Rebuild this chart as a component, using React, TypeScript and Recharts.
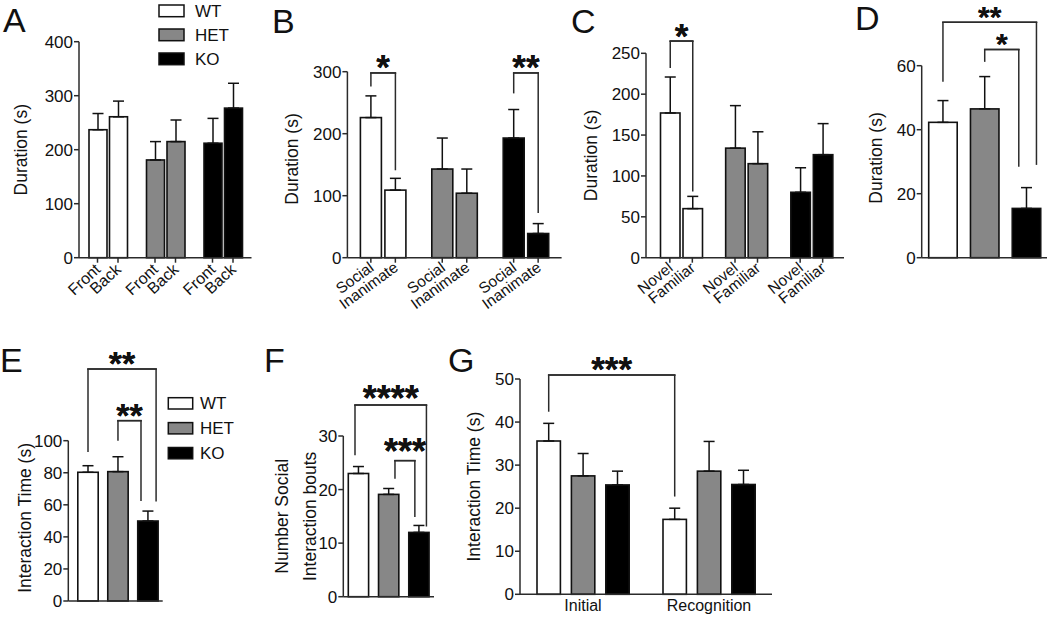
import React from 'react';
import { BarChart, Bar, XAxis, YAxis, ErrorBar } from 'recharts';

const FONT = '"Liberation Sans", Arial, Helvetica, sans-serif';
const INK = '#111111';
const AXIS = '#2b2b2b';

// ---------- shared ----------
const genotypes = ['WT', 'HET', 'KO'];
const genotypeColors = ['#ffffff', '#878787', '#000000'];

// ---------- Panel A ----------
const aSides = ['Front', 'Back'];
const aFront = [237, 181, 212];
const aFrontErr = [30, 34, 46];
const aBack = [261, 215, 277];
const aBackErr = [29, 40, 46];
const aTicks = [0, 100, 200, 300, 400];

// ---------- Panel B ----------
const bStimuli = ['Social', 'Inanimate'];
const bSocial = [226, 143, 193];
const bSocialErr = [35, 50, 46];
const bInanimate = [109, 104, 39];
const bInanimateErr = [19, 39, 16];
const bTicks = [0, 100, 200, 300];

// ---------- Panel C ----------
const cStimuli = ['Novel', 'Familiar'];
const cNovel = [177, 134, 80];
const cNovelErr = [44, 52, 30];
const cFamiliar = [60, 115, 126];
const cFamiliarErr = [15, 39, 38];
const cTicks = [0, 50, 100, 150, 200, 250];

// ---------- Panel D ----------
const dDuration = [42.3, 46.5, 15.4];
const dErr = [6.8, 10.1, 6.5];
const dTicks = [0, 20, 40, 60];

// ---------- Panel E ----------
const eTime = [80.3, 80.7, 49.9];
const eErr = [4.1, 9.3, 6.2];
const eTicks = [0, 20, 40, 60, 80, 100];

// ---------- Panel F ----------
const fBouts = [23.0, 19.1, 12.0];
const fErr = [1.3, 1.1, 1.3];
const fTicks = [0, 10, 20, 30];

// ---------- Panel G ----------
const gPhases = ['Initial', 'Recognition'];
const gWT = [35.6, 17.4];
const gWTErr = [4.1, 2.6];
const gHET = [27.5, 28.6];
const gHETErr = [5.2, 6.9];
const gKO = [25.4, 25.5];
const gKOErr = [3.2, 3.3];
const gTicks = [0, 10, 20, 30, 40, 50];

// ---------- significance brackets (values in data units) ----------
type Bracket = {
  stars: string;
  from: [string, number];
  to: [string, number];
  level: number;
  fromEnd: number;
  toEnd: number;
  fromShift?: number;
  toShift?: number;
  gap?: number;
};

const bBrackets: Bracket[] = [
  { stars: '*', from: ['social', 0], to: ['inanimate', 0], level: 298, fromEnd: 276, toEnd: 141 },
  { stars: '**', from: ['social', 2], to: ['inanimate', 2], level: 298, fromEnd: 265, toEnd: 72 },
];
const cBrackets: Bracket[] = [
  { stars: '*', from: ['novel', 0], to: ['familiar', 0], level: 265, fromEnd: 232, toEnd: 81 },
];
const dBrackets: Bracket[] = [
  { stars: '**', from: ['value', 0], to: ['value', 2], level: 73.6, fromEnd: 55, toEnd: 29, toShift: 0.35, gap: 12.5 },
  { stars: '*', from: ['value', 1], to: ['value', 2], level: 65.1, fromEnd: 61.2, toEnd: 28.4, toShift: -0.27, gap: 12.5 },
];
const eBrackets: Bracket[] = [
  { stars: '**', from: ['value', 0], to: ['value', 2], level: 144.7, fromEnd: 93, toEnd: 62, toShift: 0.4 },
  { stars: '**', from: ['value', 1], to: ['value', 2], level: 112.5, fromEnd: 100, toEnd: 62.4, toShift: -0.34 },
];
const fBrackets: Bracket[] = [
  { stars: '****', from: ['value', 0], to: ['value', 2], level: 35.8, fromEnd: 26.4, toEnd: 13.1, fromShift: -0.17, toShift: 0.37, gap: 15 },
  { stars: '***', from: ['value', 1], to: ['value', 2], level: 25.4, fromEnd: 22, toEnd: 14.9, fromShift: 0.31, toShift: -0.2, gap: 17.5 },
];
const gBrackets: Bracket[] = [
  { stars: '***', from: ['wt', 0], to: ['wt', 1], level: 50.9, fromEnd: 42.4, toEnd: 22.7, gap: 15 },
];

// ---------- tables built from arrays ----------
const aRows = genotypes.map((g, i) => ({ genotype: g, front: aFront[i], frontErr: aFrontErr[i], back: aBack[i], backErr: aBackErr[i] }));
const bRows = genotypes.map((g, i) => ({ genotype: g, social: bSocial[i], socialErr: bSocialErr[i], inanimate: bInanimate[i], inanimateErr: bInanimateErr[i] }));
const cRows = genotypes.map((g, i) => ({ genotype: g, novel: cNovel[i], novelErr: cNovelErr[i], familiar: cFamiliar[i], familiarErr: cFamiliarErr[i] }));
const dRows = genotypes.map((g, i) => ({ genotype: g, value: dDuration[i], err: dErr[i] }));
const eRows = genotypes.map((g, i) => ({ genotype: g, value: eTime[i], err: eErr[i] }));
const fRows = genotypes.map((g, i) => ({ genotype: g, value: fBouts[i], err: fErr[i] }));
const gRows = gPhases.map((p, i) => ({ phase: p, wt: gWT[i], wtErr: gWTErr[i], het: gHET[i], hetErr: gHETErr[i], ko: gKO[i], koErr: gKOErr[i] }));

// ---------- bar shape with bracket drawing ----------
type Geo = { cx: number; w: number; base: number; ppu: number };
const registry: Record<string, Record<string, Geo>> = {};

function makeShape(panel: string, seriesKey: string, fillFor: (i: number) => string, brackets: Bracket[], starSize: number) {
  const reg = (registry[panel] = registry[panel] || {});
  return (props: any) => {
    const { x, y, width, height, index, payload } = props;
    const v = Number(payload ? payload[seriesKey] : props.value);
    const key = `${seriesKey}:${index}`;
    if (v > 0 && height > 0 && isFinite(x) && isFinite(y)) {
      reg[key] = { cx: x + width / 2, w: width, base: y + height, ppu: height / v };
    }
    const me = reg[key];
    const extra: any[] = [];
    if (me) {
      brackets.forEach((b, bi) => {
        const fk = `${b.from[0]}:${b.from[1]}`;
        const tk = `${b.to[0]}:${b.to[1]}`;
        const isFrom = key === fk;
        const isTo = key === tk;
        if (!isFrom && !isTo) return;
        const myX = me.cx + (isFrom ? b.fromShift ?? 0 : b.toShift ?? 0) * me.w;
        const yL = me.base - b.level * me.ppu;
        const yE = me.base - (isFrom ? b.fromEnd : b.toEnd) * me.ppu;
        extra.push(<line key={`l${bi}`} x1={myX} x2={myX} y1={yL} y2={yE} stroke={AXIS} strokeWidth={1.5} />);
        const o = reg[isFrom ? tk : fk];
        if (o) {
          const oX = o.cx + (isFrom ? b.toShift ?? 0 : b.fromShift ?? 0) * o.w;
          extra.push(
            <line key={`h${bi}`} x1={Math.min(myX, oX) - 0.75} x2={Math.max(myX, oX) + 0.75} y1={yL} y2={yL} stroke={AXIS} strokeWidth={1.5} />
          );
          const gap = b.gap ?? 14;
          extra.push(
            <text key={`t${bi}`} x={(myX + oX) / 2} y={yL - gap + starSize * 0.585} textAnchor="middle" fontSize={starSize} fontWeight="bold" fill={INK}>
              {b.stars}
            </text>
          );
        }
      });
    }
    return (
      <g>
        <rect x={x} y={y} width={width} height={height} fill={fillFor(index)} stroke={INK} strokeWidth={1.6} />
        {extra}
      </g>
    );
  };
}

// ---------- axis helpers ----------
function YTitle(props: any) {
  const { viewBox, lines, offsets, dy = 0, fontSize = 17.5 } = props;
  if (!viewBox) return null;
  const cy = viewBox.y + viewBox.height / 2 + dy;
  return (
    <g>
      {lines.map((t: string, i: number) => {
        const cx = viewBox.x + offsets[i];
        return (
          <text key={i} x={cx} y={cy} dy="0.36em" transform={`rotate(-90 ${cx} ${cy})`} textAnchor="middle" fontSize={fontSize} fill={INK}>
            {t}
          </text>
        );
      })}
    </g>
  );
}

function PairTick(props: any) {
  const { x, y, labels, spread, angle, fontSize = 16, dx = 3, dy = 13 } = props;
  return (
    <g>
      {labels.map((lab: string, i: number) => {
        const cx = x + (i === 0 ? -spread : spread);
        const ax = cx + dx;
        const ay = y + dy;
        return (
          <g key={i}>
            <line x1={cx} x2={cx} y1={y} y2={y + 5} stroke={AXIS} strokeWidth={1.5} />
            <text x={ax} y={ay} transform={`rotate(${angle} ${ax} ${ay})`} textAnchor="end" fontSize={fontSize} fill={INK}>
              {lab}
            </text>
          </g>
        );
      })}
    </g>
  );
}

type SeriesDef = { key: string; errKey: string; fillFor: (i: number) => string };
type PanelProps = {
  id: string;
  left: number;
  top: number;
  width: number;
  height: number;
  plotTop: number;
  plotRight: number;
  yWidth: number;
  xHeight: number;
  domain: [number, number];
  ticks: number[];
  rows: any[];
  categoryKey: string;
  series: SeriesDef[];
  barSize: number;
  barGap?: number;
  brackets: Bracket[];
  starSize: number;
  title: string[];
  titleOffsets: number[];
  titleDy?: number;
  xTick: any;
  xTickMargin?: number;
  xPadLeft?: number;
};

function Panel(p: PanelProps) {
  return (
    <div style={{ position: 'absolute', left: p.left, top: p.top }}>
      <BarChart
        width={p.width}
        height={p.height}
        data={p.rows}
        margin={{ top: p.plotTop, right: p.width - p.plotRight, bottom: 0, left: 0 }}
        barGap={p.barGap ?? 0}
        barSize={p.barSize}
      >
        <XAxis
          dataKey={p.categoryKey}
          height={p.xHeight}
          interval={0}
          axisLine={{ stroke: AXIS, strokeWidth: 1.5 }}
          tickLine={false}
          tickSize={0}
          tickMargin={p.xTickMargin ?? 0}
          tick={p.xTick}
          padding={{ left: p.xPadLeft ?? 0, right: 0 }}
        />
        <YAxis
          type="number"
          domain={p.domain}
          ticks={p.ticks}
          interval={0}
          width={p.yWidth}
          tickSize={5}
          tickMargin={1}
          axisLine={{ stroke: AXIS, strokeWidth: 1.5 }}
          tickLine={{ stroke: AXIS, strokeWidth: 1.5 }}
          tick={{ fill: INK, fontSize: 17 }}
          label={<YTitle lines={p.title} offsets={p.titleOffsets} dy={p.titleDy ?? 0} />}
        />
        {p.series.map((s) => (
          <Bar key={s.key} dataKey={s.key} isAnimationActive={false} shape={makeShape(p.id, s.key, s.fillFor, p.brackets, p.starSize)}>
            <ErrorBar
              dataKey={(r: any) => [0, r[s.errKey]]}
              width={5.5}
              strokeWidth={1.5}
              stroke={INK}
              direction="y"
              isAnimationActive={false}
            />
          </Bar>
        ))}
      </BarChart>
    </div>
  );
}

const byRow = (i: number) => genotypeColors[i];

export default function App() {
  const aSpread = (18 + 2.5) / 2;
  const bSpread = (21 + 3.5) / 2;
  const cSpread = (19.5 + 3) / 2;
  const topH = 317;
  const topXH = topH - 257.7;
  return (
    <div style={{ position: 'absolute', left: 0, top: 0, width: 1050, height: 617, background: '#fff', fontFamily: FONT, overflow: 'hidden' }}>
      <Panel
        id="A" left={0} top={0} width={252} height={topH} plotTop={41.7} plotRight={251.5} yWidth={79} xHeight={topXH}
        domain={[0, 400]} ticks={aTicks} rows={aRows} categoryKey="genotype"
        series={[{ key: 'front', errKey: 'frontErr', fillFor: byRow }, { key: 'back', errKey: 'backErr', fillFor: byRow }]}
        barSize={18} barGap={2.5} brackets={[]} starSize={35}
        title={['Duration (s)']} titleOffsets={[21]}
        xTick={<PairTick labels={aSides} spread={aSpread} angle={-43} dx={4} dy={13} />}
      />
      <Panel
        id="B" left={250} top={0} width={312} height={topH} plotTop={71.7} plotRight={311.6} yWidth={97.4} xHeight={topXH}
        domain={[0, 300]} ticks={bTicks} rows={bRows} categoryKey="genotype"
        series={[{ key: 'social', errKey: 'socialErr', fillFor: byRow }, { key: 'inanimate', errKey: 'inanimateErr', fillFor: byRow }]}
        barSize={21} barGap={3.5} brackets={bBrackets} starSize={35}
        title={['Duration (s)']} titleOffsets={[41.7]} titleDy={-5.7}
        xTick={<PairTick labels={bStimuli} spread={bSpread} angle={-36} fontSize={15.5} dx={4} dy={12} />}
      />
      <Panel
        id="C" left={560} top={0} width={284} height={topH} plotTop={53.3} plotRight={284} yWidth={86} xHeight={topXH} xPadLeft={2.5}
        domain={[0, 250]} ticks={cTicks} rows={cRows} categoryKey="genotype"
        series={[{ key: 'novel', errKey: 'novelErr', fillFor: byRow }, { key: 'familiar', errKey: 'familiarErr', fillFor: byRow }]}
        barSize={19.5} barGap={3} brackets={cBrackets} starSize={35}
        title={['Duration (s)']} titleOffsets={[30.8]}
        xTick={<PairTick labels={cStimuli} spread={cSpread} angle={-39} fontSize={15.5} dx={4} dy={12} />}
      />
      <Panel
        id="D" left={845} top={0} width={205} height={topH} plotTop={65.7} plotRight={202} yWidth={76.7} xHeight={topXH}
        domain={[0, 60]} ticks={dTicks} rows={dRows} categoryKey="genotype"
        series={[{ key: 'value', errKey: 'err', fillFor: byRow }]}
        barSize={28.5} brackets={dBrackets} starSize={30}
        title={['Duration (s)']} titleOffsets={[30.8]} titleDy={-3.7}
        xTick={false}
      />
      <Panel
        id="E" left={0} top={330} width={163} height={287} plotTop={110.7} plotRight={162.7} yWidth={68.3} xHeight={16} xPadLeft={4.5}
        domain={[0, 100]} ticks={eTicks} rows={eRows} categoryKey="genotype"
        series={[{ key: 'value', errKey: 'err', fillFor: byRow }]}
        barSize={20.4} brackets={eBrackets} starSize={34}
        title={['Interaction Time (s)']} titleOffsets={[25]} titleDy={-3}
        xTick={false}
      />
      <Panel
        id="F" left={260} top={330} width={174} height={287} plotTop={106} plotRight={174} yWidth={83.3} xHeight={20.3}
        domain={[0, 30]} ticks={fTicks} rows={fRows} categoryKey="genotype"
        series={[{ key: 'value', errKey: 'err', fillFor: byRow }]}
        barSize={20.3} brackets={fBrackets} starSize={36}
        title={['Number Social', 'Interaction bouts']} titleOffsets={[21.7, 50]}
        xTick={false}
      />
      <Panel
        id="G" left={440} top={330} width={333} height={287} plotTop={49} plotRight={332} yWidth={80} xHeight={22.7}
        domain={[0, 50]} ticks={gTicks} rows={gRows} categoryKey="phase"
        series={[
          { key: 'wt', errKey: 'wtErr', fillFor: () => genotypeColors[0] },
          { key: 'het', errKey: 'hetErr', fillFor: () => genotypeColors[1] },
          { key: 'ko', errKey: 'koErr', fillFor: () => genotypeColors[2] },
        ]}
        barSize={23.4} barGap={11} brackets={gBrackets} starSize={35}
        title={['Interaction Time (s)']} titleOffsets={[33.3]}
        xTick={{ fill: INK, fontSize: 16 }} xTickMargin={5}
      />

      <svg width={1050} height={617} style={{ position: 'absolute', left: 0, top: 0, pointerEvents: 'none' }}>
        {[
          { t: 'A', x: 3, y: 32 },
          { t: 'B', x: 272, y: 33 },
          { t: 'C', x: 571, y: 33 },
          { t: 'D', x: 855, y: 30 },
          { t: 'E', x: 0, y: 372 },
          { t: 'F', x: 264, y: 372 },
          { t: 'G', x: 448, y: 372 },
        ].map((l) => (
          <text key={l.t} x={l.x} y={l.y} fontSize={34} fill={INK}>
            {l.t}
          </text>
        ))}
        {genotypes.map((g, i) => (
          <g key={`la${g}`}>
            <rect x={159} y={5 + i * 24} width={25} height={11.7} fill={genotypeColors[i]} stroke={INK} strokeWidth={1.5} />
            <text x={195} y={16.7 + i * 24} fontSize={17} fill={INK}>{g}</text>
          </g>
        ))}
        {genotypes.map((g, i) => (
          <g key={`le${g}`}>
            <rect x={168.3} y={397.7 + i * 24.9} width={24.4} height={11.3} fill={genotypeColors[i]} stroke={INK} strokeWidth={1.5} />
            <text x={200} y={409 + i * 24.9} fontSize={17} fill={INK}>{g}</text>
          </g>
        ))}
      </svg>
    </div>
  );
}
